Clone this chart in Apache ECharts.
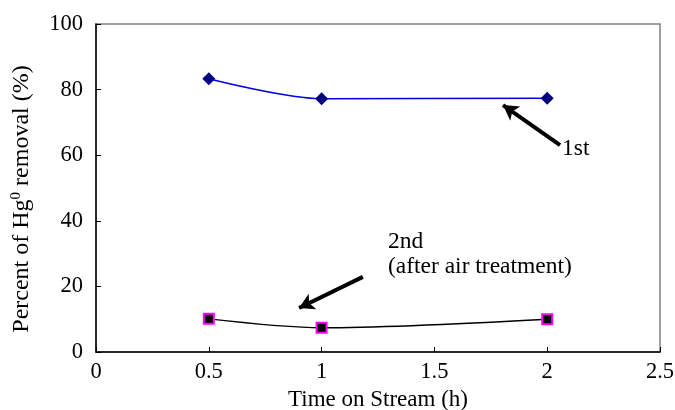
<!DOCTYPE html>
<html><head><meta charset="utf-8">
<script src="https://cdn.jsdelivr.net/npm/echarts@6/dist/echarts.min.js"></script>
<style>html,body{margin:0;padding:0;background:#fff}#c{width:675px;height:410px}</style>
</head><body><div id="c"></div>
<script>
const times = [0.5, 1, 2];
const firstRun = [83.3, 77.2, 77.4];
const secondRun = [10.1, 7.4, 10.0];
const xTicks = [0, 0.5, 1, 1.5, 2, 2.5];
const yTicks = [0, 20, 40, 60, 80, 100];
const arrow1 = [[2.057, 63.1], [1.804, 75.3]];
const arrow2 = [[1.183, 22.9], [0.90, 13.4]];
const label1 = {text: '1st', at: [2.066, 62]};
const label2 = {text: '2nd\n(after air treatment)', at: [1.294, 29.7]};

const FONT = '"Liberation Serif", "DejaVu Serif", serif';
const chart = echarts.init(document.getElementById('c'), null, {renderer: 'canvas'});
const arrowLine = (a) => ({
  type: 'line', data: [],
  markLine: {
    silent: true, animation: false,
    symbol: ['none', 'arrow'], symbolSize: [13, 15],
    lineStyle: {color: '#000', width: 4, type: 'solid'},
    label: {show: false},
    data: [[{coord: a[0]}, {coord: a[1]}]]
  }
});
const textPoint = (l) => ({
  type: 'scatter', data: [], silent: true,
  markPoint: {
    symbol: 'circle', symbolSize: 0, animation: false,
    label: {show: true, position: 'right', distance: 0, formatter: l.text,
      fontFamily: FONT, fontSize: 23.5, color: '#000', lineHeight: 25, align: 'left'},
    data: [{coord: l.at}]
  }
});
chart.setOption({
  animation: false,
  grid: {left: 96, right: 15, top: 24, bottom: 58, show: true, borderColor: '#808080', borderWidth: 1.5,
    containLabel: false, outerBoundsMode: 'none'},
  xAxis: {
    type: 'value', min: 0, max: 2.5, interval: 0.5,
    name: 'Time on Stream (h)', nameLocation: 'middle', nameGap: 31,
    nameTextStyle: {fontFamily: FONT, fontSize: 23, color: '#000'},
    axisLine: {onZero: false, lineStyle: {color: '#000', width: 1.5}},
    axisTick: {inside: true, length: 5, lineStyle: {color: '#000'}},
    axisLabel: {fontFamily: FONT, fontSize: 22.5, color: '#000', margin: 9,
      formatter: v => xTicks.includes(v) ? String(v) : ''},
    splitLine: {show: false}
  },
  yAxis: {
    type: 'value', min: 0, max: 100, interval: 20,
    name: 'Percent of Hg{sup|0} removal (%)', nameLocation: 'middle', nameGap: 62, nameRotate: 90,
    nameTextStyle: {fontFamily: FONT, fontSize: 24, color: '#000', padding: [0, 22, 0, 0],
      rich: {sup: {fontFamily: FONT, fontSize: 15, color: '#000', verticalAlign: 'top', padding: [0,0,10,0]}}},
    axisLine: {show: true, lineStyle: {color: '#000', width: 1.5}},
    axisTick: {show: true, inside: true, length: 5, lineStyle: {color: '#000'}},
    axisLabel: {fontFamily: FONT, fontSize: 22.5, color: '#000', margin: 13,
      formatter: v => yTicks.includes(v) ? String(v) : ''},
    splitLine: {show: false}
  },
  series: [
    {
      name: '1st', type: 'line', smooth: 0.3,
      data: times.map((t, i) => [t, firstRun[i]]),
      symbol: 'diamond', symbolSize: 13,
      itemStyle: {color: '#000080'},
      lineStyle: {color: '#0000E0', width: 1.5}
    },
    {
      name: '2nd', type: 'line', smooth: 0.3,
      data: times.map((t, i) => [t, secondRun[i]]),
      symbol: 'rect', symbolSize: 10,
      itemStyle: {color: '#000', borderColor: '#FF00FF', borderWidth: 2},
      lineStyle: {color: '#000', width: 1.5}
    },
    arrowLine(arrow1), arrowLine(arrow2),
    textPoint(label1), textPoint(label2)
  ]
});
</script></body></html>
